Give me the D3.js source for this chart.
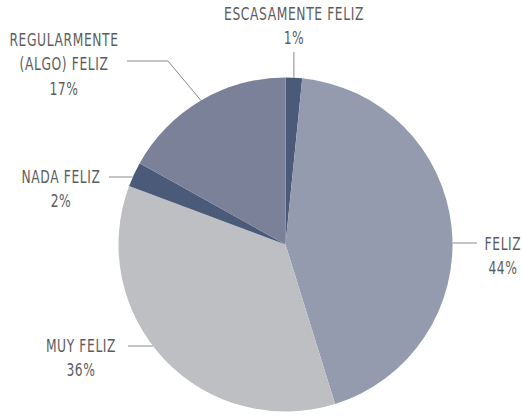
<!DOCTYPE html>
<html>
<head>
<meta charset="utf-8">
<script src="https://cdn.jsdelivr.net/npm/d3@7"></script>
<style>
  body { margin: 0; background: #fff; }
  text { font-family: "DejaVu Sans Condensed", "DejaVu Sans", sans-serif; font-stretch: condensed; fill: #5c5c5e; font-size: 18px; letter-spacing: 0.8px; }
</style>
</head>
<body>
<div id="chart"></div>
<script>
const categories = ["ESCASAMENTE FELIZ", "FELIZ", "MUY FELIZ", "NADA FELIZ", "REGULARMENTE (ALGO) FELIZ"];
const values = [1.6, 43.6, 35.5, 2.4, 16.9];
const percentLabels = ["1%", "44%", "36%", "2%", "17%"];
const colors = ["#4a5a78", "#959bae", "#bebfc3", "#4a5a78", "#7a8199"];

const width = 522, height = 415;
const cx = 285.5, cy = 244.5, radius = 167;
const squeeze = 0.76;

// label layout: text anchor position, lines of text, and how the leader line is drawn
const labelLayout = [
  { x: 294, y: 20, lines: ["ESCASAMENTE FELIZ"], leader: "vertical", from: 52 },
  { x: 503, y: 250, lines: ["FELIZ"], leader: "horizontal", lineY: 243, to: 477 },
  { x: 81, y: 352, lines: ["MUY FELIZ"], leader: "horizontal", lineY: 346, to: 128 },
  { x: 61, y: 183, lines: ["NADA FELIZ"], leader: "horizontal", lineY: 177, to: 109 },
  { x: 64, y: 46, lines: ["REGULARMENTE", "(ALGO) FELIZ"], leader: "elbow", lineY: 61, to: 127, elbowX: 168 }
];

const svg = d3.select("#chart").append("svg")
  .attr("width", width)
  .attr("height", height);

const pie = d3.pie().sort(null).value(d => d)(values);
const arc = d3.arc().innerRadius(0).outerRadius(radius);

const g = svg.append("g").attr("transform", `translate(${cx},${cy})`);

g.selectAll("path")
  .data(pie)
  .join("path")
  .attr("d", arc)
  .attr("fill", (d, i) => colors[i]);

// leader lines
const edgeAt = a => [cx + radius * Math.sin(a), cy - radius * Math.cos(a)];

pie.forEach((d, i) => {
  const L = labelLayout[i];
  const mid = (d.startAngle + d.endAngle) / 2;
  let pts;
  if (L.leader === "vertical") {
    const [ex, ey] = edgeAt(mid);
    pts = [[ex, L.from], [ex, ey]];
  } else if (L.leader === "horizontal") {
    const dy = L.lineY - cy;
    const dx = Math.sqrt(radius * radius - dy * dy);
    const ex = L.to > cx ? cx + dx : cx - dx;
    pts = [[L.to, L.lineY], [ex, L.lineY]];
  } else {
    const [ex, ey] = edgeAt(mid);
    pts = [[L.to, L.lineY], [L.elbowX, L.lineY], [ex, ey]];
  }
  svg.append("path")
    .attr("d", d3.line()(pts))
    .attr("fill", "none")
    .attr("stroke", "#8a8a8c")
    .attr("stroke-width", 1);
});

// labels (squeezed horizontally to mimic the condensed face)
labelLayout.forEach((L, i) => {
  const t = svg.append("g")
    .attr("transform", `translate(${L.x},${L.y}) scale(${squeeze},1)`)
    .append("text")
    .attr("text-anchor", "middle");
  const lines = L.lines.concat([percentLabels[i]]);
  lines.forEach((s, j) => {
    t.append("tspan")
      .attr("x", 0)
      .attr("dy", j === 0 ? 0 : 24.5)
      .text(s);
  });
});
</script>
</body>
</html>
